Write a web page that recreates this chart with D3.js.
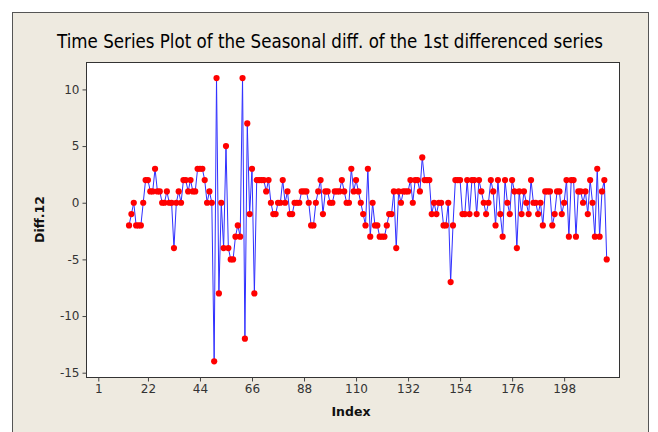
<!DOCTYPE html>
<html>
<head>
<meta charset="utf-8">
<style>
  body { margin: 0; background: #fff; }
  text { font-family: "DejaVu Sans", sans-serif; }
</style>
</head>
<body>
<svg width="658" height="432"></svg>
<script src="https://cdn.jsdelivr.net/npm/d3@7"></script>
<script>
// series starts at index 14 (lag 12 seasonal diff of the 1st differenced series)
var startIndex = 14;
var diff12 = [
  -2, -1, 0, -2, -2, -2, 0, 2, 2, 1, 1, 3, 1, 1, 0, 0, 1, 0, 0, -4,
  0, 1, 0, 2, 2, 1, 2, 1, 1, 3, 3, 3, 2, 0, 1, 0, -14, 11, -8, 0,
  -4, 5, -4, -5, -5, -3, -2, -3, 11, -12, 7, -1, 3, -8, 2, 2, 2, 2, 1, 2,
  0, -1, -1, 0, 0, 2, 0, 1, -1, -1, 0, 0, 0, 1, 1, 1, 0, -2, -2, 0,
  1, 2, -1, 1, 1, 0, 0, 1, 1, 1, 2, 1, 0, 0, 3, 1, 2, 1, 0, -1,
  -2, 3, -3, 0, -2, -2, -3, -3, -3, -2, -1, -1, 1, -4, 1, 0, 1, 1, 1, 2,
  0, 2, 2, 1, 4, 2, 2, 2, -1, 0, -1, 0, 0, -2, -2, 0, -7, -2, 2, 2,
  2, -1, -1, 2, -1, 2, 2, -1, 2, 1, 0, -1, 0, 2, 1, -2, 2, -1, -3, 2,
  0, -1, 2, 1, -4, 1, -1, 1, 0, -1, 2, 0, 0, -1, 0, -2, 1, 1, 1, -2,
  -1, 1, 1, -1, 0, 2, -3, 2, 2, -3, 1, 1, 0, 1, -1, 2, 0, -3, 3, -3,
  1, 2, -5
];
var xTicks = [1, 22, 44, 66, 88, 110, 132, 154, 176, 198];
var yTicks = [-15, -10, -5, 0, 5, 10];
var titleText = "Time Series Plot of the Seasonal diff. of the 1st differenced series";
var xLabel = "Index";
var yLabel = "Diff.12";

var svg = d3.select("svg"),
    margin = {top: 62, right: 39, bottom: 55, left: 86},
    width = +svg.attr("width") - margin.left - margin.right,
    height = +svg.attr("height") - margin.top - margin.bottom;

var data = diff12.map(function(v, k) { return {index: startIndex + k, value: v}; });

// beige panel
svg.append("rect")
    .attr("x", 12.5).attr("y", 12.5)
    .attr("width", 636).attr("height", 440)
    .attr("fill", "#eeeae0")
    .attr("stroke", "#555");

svg.append("text")
    .attr("class", "title")
    .attr("x", 330).attr("y", 48)
    .attr("text-anchor", "middle")
    .attr("font-size", 16)
    .attr("fill", "#000")
    .style("font-family", "'DejaVu Sans Condensed', 'DejaVu Sans', sans-serif")
    .text(titleText);

// fit title to the width it has in the picture
var t = svg.select(".title"), tw = t.node().getComputedTextLength();
t.attr("font-size", 16 * 546 / tw);

var g = svg.append("g").attr("transform", "translate(" + margin.left + "," + margin.top + ")");

var x = d3.scaleLinear()
    .domain([-4.2, 221.2])
    .range([0, width]);

var y = d3.scaleLinear()
    .domain([-15.38, 12.42])
    .range([height, 0]);

g.append("rect")
    .attr("x", 0.5).attr("y", 0.5)
    .attr("width", width).attr("height", height)
    .attr("fill", "#fff")
    .attr("stroke", "#333");

var plain = function(d) { return String(d); };

var xAxis = g.append("g")
    .attr("class", "axis axis--x")
    .attr("transform", "translate(0," + (height + 0.5) + ")")
    .call(d3.axisBottom(x).tickValues(xTicks).tickFormat(plain).tickSize(4).tickPadding(3));

var yAxis = g.append("g")
    .attr("class", "axis axis--y")
    .attr("transform", "translate(0.5,0)")
    .call(d3.axisLeft(y).tickValues(yTicks).tickFormat(plain).tickSize(4).tickPadding(3));

[xAxis, yAxis].forEach(function(a) {
  a.select(".domain").remove();
  a.selectAll("line").attr("stroke", "#444");
  a.selectAll("text")
      .attr("fill", "#333")
      .style("font-size", "12px")
      .style("font-family", "DejaVu Sans, sans-serif");
});

svg.append("text")
    .attr("x", 351).attr("y", 416)
    .attr("text-anchor", "middle")
    .attr("font-size", 12.5)
    .attr("font-weight", "bold")
    .attr("fill", "#111")
    .text(xLabel);

svg.append("text")
    .attr("transform", "translate(44," + (margin.top + height / 2) + ") rotate(-90)")
    .attr("text-anchor", "middle")
    .attr("font-size", 12.5)
    .attr("font-weight", "bold")
    .attr("fill", "#111")
    .text(yLabel);

var line = d3.line()
    .x(function(d) { return x(d.index); })
    .y(function(d) { return y(d.value); });

g.append("path")
    .datum(data)
    .attr("fill", "none")
    .attr("stroke", "#2f2fff")
    .attr("stroke-width", 1)
    .attr("d", line);

g.selectAll(".dot")
    .data(data)
  .enter().append("circle")
    .attr("class", "dot")
    .attr("cx", function(d) { return x(d.index); })
    .attr("cy", function(d) { return y(d.value); })
    .attr("r", 3.1)
    .attr("fill", "#ff0000");
</script>
</body>
</html>
